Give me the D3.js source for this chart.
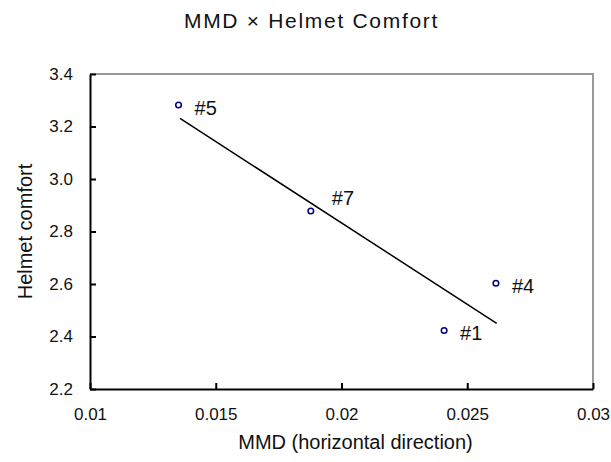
<!DOCTYPE html>
<html><head><meta charset="utf-8">
<script src="https://cdn.jsdelivr.net/npm/d3@7"></script>
<style>body{margin:0;background:#fff}svg{display:block}text{font-family:"Liberation Sans",Arial,sans-serif;fill:#111}</style>
</head><body><svg id="c" width="611" height="462"></svg>
<script>
const labels = ["#5", "#7", "#4", "#1"];
const mmd = [0.01352, 0.01878, 0.02614, 0.02408];
const comfort = [3.282, 2.878, 2.603, 2.423];
const trendX = [0.01358, 0.02617];
const trendY = [3.231, 2.450];
const xTicks = [0.01, 0.015, 0.02, 0.025, 0.03];
const yTicks = [2.2, 2.4, 2.6, 2.8, 3.0, 3.2, 3.4];

const svg = d3.select("#c");
const L = 90, R = 593, T = 74, B = 389;
const x = d3.scaleLinear().domain([0.01, 0.03]).range([L, R]);
const y = d3.scaleLinear().domain([2.2, 3.4]).range([B, T]);

svg.append("path").attr("d", `M${L},${T}H${R}V${B}`).attr("fill","none").attr("stroke","#999").attr("stroke-width",2);

const xa = svg.append("g").attr("transform",`translate(0,${B})`)
  .call(d3.axisBottom(x).tickValues(xTicks).tickFormat(d=>String(+d.toFixed(3))).tickSizeInner(-6).tickSizeOuter(0).tickPadding(19));
xa.select(".domain").attr("stroke","#000").attr("stroke-width",2);
xa.selectAll(".tick line").attr("stroke","#000").attr("stroke-width",2);
xa.selectAll("text").attr("font-size",17).attr("fill","#111").attr("font-family",'"Liberation Sans",Arial,sans-serif');

const ya = svg.append("g").attr("transform",`translate(${L},0)`)
  .call(d3.axisLeft(y).tickValues(yTicks).tickFormat(d3.format(".1f")).tickSizeInner(-6).tickSizeOuter(0).tickPadding(17));
ya.select(".domain").attr("stroke","#000").attr("stroke-width",2);
ya.selectAll(".tick line").attr("stroke","#000").attr("stroke-width",2);
ya.selectAll("text").attr("font-size",17).attr("fill","#111").attr("font-family",'"Liberation Sans",Arial,sans-serif');

svg.append("line").attr("x1", x(trendX[0])).attr("y1", y(trendY[0])).attr("x2", x(trendX[1])).attr("y2", y(trendY[1]))
  .attr("stroke","#000").attr("stroke-width",1.5);

svg.selectAll("circle.p").data(mmd).enter().append("circle")
  .attr("cx", d=>x(d)).attr("cy", (d,i)=>y(comfort[i])).attr("r",2.8)
  .attr("fill","#fff").attr("stroke","#000080").attr("stroke-width",1.5);

const off = {"#7": [21, -6]};
svg.selectAll("text.lbl").data(labels).enter().append("text")
  .attr("x", (d,i)=>x(mmd[i]) + (off[d] ? off[d][0] : 16))
  .attr("y", (d,i)=>y(comfort[i]) + (off[d] ? off[d][1] : 10))
  .attr("font-size",20).text(d=>d);

svg.append("text").attr("x", 311.5).attr("y", 28).attr("text-anchor","middle").attr("font-size",21).attr("letter-spacing",1.7).text("MMD × Helmet Comfort");
svg.append("text").attr("x", 355.5).attr("y", 449).attr("text-anchor","middle").attr("font-size",20).text("MMD (horizontal direction)");
svg.append("text").attr("transform",`translate(32,${(T+B)/2}) rotate(-90)`).attr("text-anchor","middle").attr("font-size",20).text("Helmet comfort");
</script></body></html>
